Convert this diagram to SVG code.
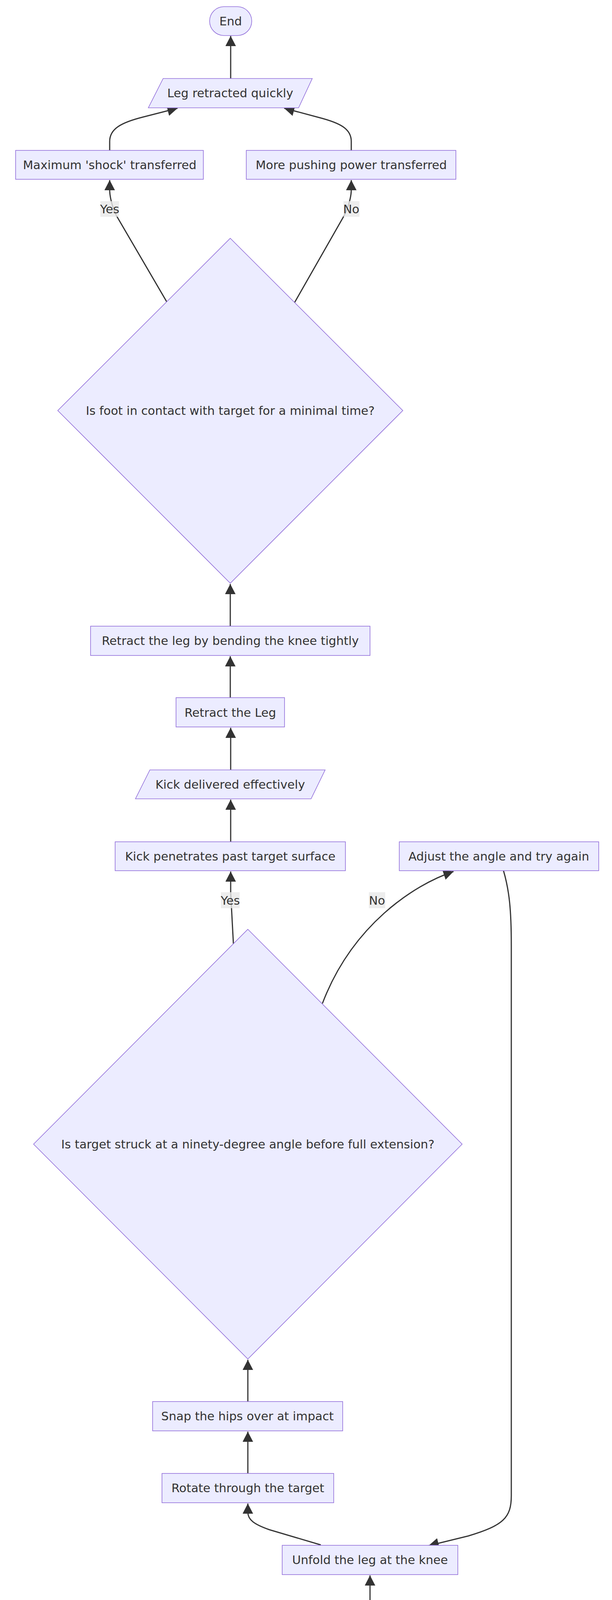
<svg xmlns="http://www.w3.org/2000/svg" width="1568" height="7764" viewBox="0 0 1568 7764">
<style>
.n{fill:#ECECFF;stroke:#9370DB;stroke-width:1.6}
.t{font-family:"DejaVu Sans",Verdana,sans-serif;font-size:30.5px;fill:#333;text-anchor:middle;dominant-baseline:central}
.e{fill:none;stroke:#333;stroke-width:3}
.lb{fill:#e8e8e8;fill-opacity:0.8}
</style>
<defs>
<marker id="ah" markerUnits="userSpaceOnUse" viewBox="0 0 10 10" preserveAspectRatio="none" markerWidth="26" markerHeight="27" refX="10" refY="5" orient="auto">
<path d="M0,0 L10,5 L0,10 z" fill="#333"/>
</marker>
</defs>
<rect width="1568" height="7764" fill="#fff"/>
<g id="edges">
<path class="e" marker-end="url(#ah)" d="M591,201 L591,92"/>
<path class="e" marker-end="url(#ah)" d="M281,385 L281,362 C281,330 310,314 365,300 L455,277"/>
<path class="e" marker-end="url(#ah)" d="M900,385 L900,362 C900,330 872,315 818,301 L728,277"/>
<path class="e" marker-end="url(#ah)" d="M428,774 L300,555 C292,541 281,510 281,485 L281,461"/>
<path class="e" marker-end="url(#ah)" d="M755,774 L880,555 C888,541 900,510 900,485 L900,461"/>
<path class="e" marker-end="url(#ah)" d="M590,1603 L590,1495"/>
<path class="e" marker-end="url(#ah)" d="M590,1786 L590,1680"/>
<path class="e" marker-end="url(#ah)" d="M591,1971 L591,1863"/>
<path class="e" marker-end="url(#ah)" d="M591,2155 L591,2047"/>
<path class="e" marker-end="url(#ah)" d="M598,2416 L591,2285 L591,2231"/>
<path class="e" marker-end="url(#ah)" d="M826,2569 C902,2369 1060,2265 1162,2231"/>
<path class="e" marker-end="url(#ah)" d="M1290,2229 C1305,2280 1310,2330 1310,2420 L1310,3829 C1310,3885 1290,3905 1200,3932 L1098,3957"/>
<path class="e" marker-end="url(#ah)" d="M635,3588 L635,3481"/>
<path class="e" marker-end="url(#ah)" d="M635,3772 L635,3665"/>
<path class="e" marker-end="url(#ah)" d="M822,3955 L690,3916 C650,3902 635,3890 635,3871 L635,3849"/>
<path class="e" marker-end="url(#ah)" d="M948,4140 L948,4033"/>
<path class="e" marker-end="url(#ah)" d="M948,4324 L948,4216"/>
<path class="e" marker-end="url(#ah)" d="M948,4508 L948,4400"/>
<path class="e" marker-end="url(#ah)" d="M948,4692 L948,4584"/>
<path class="e" marker-end="url(#ah)" d="M852,5196 L803,5060 C795,5035 792,5015 792,4990 L792,4860 C792,4815 820,4790 870,4768"/>
<path class="e" marker-end="url(#ah)" d="M1106,4876 L1106,4860 C1106,4820 1080,4795 1027,4768"/>
<path class="e" marker-end="url(#ah)" d="M1044,5196 L1094,5050 C1100,5030 1106,5010 1106,4990 L1106,4952"/>
<path class="e" marker-end="url(#ah)" d="M948,5937 L948,5830"/>
<path class="e" marker-end="url(#ah)" d="M948,6120 L948,6013"/>
<path class="e" marker-end="url(#ah)" d="M948,6304 L948,6197"/>
<path class="e" marker-end="url(#ah)" d="M948,6488 L948,6380"/>
<path class="e" marker-end="url(#ah)" d="M948,6672 L948,6565"/>
<path class="e" marker-end="url(#ah)" d="M948,6856 L948,6749"/>
<path class="e" marker-end="url(#ah)" d="M948,7040 L948,6933"/>
<path class="e" marker-end="url(#ah)" d="M948,7224 L948,7117"/>
<path class="e" marker-end="url(#ah)" d="M745,7408 L870,7372 C925,7355 948,7340 948,7322 L948,7301"/>
<path class="e" marker-end="url(#ah)" d="M465,7408 L340,7373 C285,7355 261,7340 261,7322 L261,7301"/>
<path class="e" marker-end="url(#ah)" d="M604,7592 L604,7484"/>
</g>
<g id="edge-labels">
<rect class="lb" x="257" y="515" width="48" height="40"/><text class="t" x="281" y="535">Yes</text>
<rect class="lb" x="880" y="515" width="41" height="40"/><text class="t" x="900" y="535">No</text>
<rect class="lb" x="566" y="2284" width="48" height="41"/><text class="t" x="590" y="2305">Yes</text>
<rect class="lb" x="945" y="2284" width="42" height="41"/><text class="t" x="966" y="2305">No</text>
<rect class="lb" x="770" y="4892" width="41" height="41"/><text class="t" x="790" y="4913">No</text>
<rect class="lb" x="1082" y="5006" width="49" height="40"/><text class="t" x="1106" y="5026">Yes</text>
</g>
<g id="End"><rect class="n" x="537" y="17" width="108" height="74" rx="37"/><text class="t" x="591" y="54">End</text></g>
<g id="LegRetracted"><polygon class="n" points="418,201 800,201 765,276 380,276"/><text class="t" x="590" y="238">Leg retracted quickly</text></g>
<g id="MaxShock"><rect class="n" x="40" y="385" width="481" height="74"/><text class="t" x="281" y="422">Maximum 'shock' transferred</text></g>
<g id="MorePush"><rect class="n" x="631" y="385" width="537" height="74"/><text class="t" x="900" y="422">More pushing power transferred</text></g>
<g id="FootContact"><polygon class="n" points="590,610 1032,1051 590,1493 148,1051"/><text class="t" x="590" y="1051">Is foot in contact with target for a minimal time?</text></g>
<g id="RetractBending"><rect class="n" x="232" y="1603" width="716" height="75"/><text class="t" x="590" y="1640">Retract the leg by bending the knee tightly</text></g>
<g id="RetractLeg"><rect class="n" x="451" y="1786" width="278" height="75"/><text class="t" x="590" y="1824">Retract the Leg</text></g>
<g id="KickDelivered"><polygon class="n" points="384,1971 833,1971 797,2045 347,2045"/><text class="t" x="590" y="2008">Kick delivered effectively</text></g>
<g id="KickPenetrates"><rect class="n" x="295" y="2155" width="590" height="74"/><text class="t" x="590" y="2192">Kick penetrates past target surface</text></g>
<g id="AdjustAngle"><rect class="n" x="1023" y="2155" width="511" height="74"/><text class="t" x="1278" y="2192">Adjust the angle and try again</text></g>
<g id="NinetyDegree"><polygon class="n" points="635,2379 1184,2929 635,3479 86,2929"/><text class="t" x="635" y="2929">Is target struck at a ninety-degree angle before full extension?</text></g>
<g id="SnapHips"><rect class="n" x="391" y="3588" width="487" height="75"/><text class="t" x="634" y="3625">Snap the hips over at impact</text></g>
<g id="Rotate"><rect class="n" x="415" y="3772" width="440" height="75"/><text class="t" x="635" y="3809">Rotate through the target</text></g>
<g id="Unfold"><rect class="n" x="723" y="3956" width="450" height="75"/><text class="t" x="948" y="3993">Unfold the leg at the knee</text></g>
<g id="Deliver"><rect class="n" x="807" y="4140" width="282" height="74"/><text class="t" x="948" y="4177">Deliver the Kick</text></g>
<g id="HipsTurned"><polygon class="n" points="650,4324 1284,4324 1247,4398 612,4398"/><text class="t" x="948" y="4361">Hips turned over, leg parallel to floor</text></g>
<g id="PointChambered"><rect class="n" x="600" y="4508" width="697" height="74"/><text class="t" x="948" y="4545">Point the chambered knee past the target</text></g>
<g id="ShinThigh"><rect class="n" x="658" y="4692" width="581" height="74"/><text class="t" x="948" y="4729">Shin and thigh parallel to the floor</text></g>
<g id="CorrectKnee"><rect class="n" x="888" y="4876" width="437" height="74"/><text class="t" x="1106" y="4913">Correct the knee position</text></g>
<g id="KneeDown"><polygon class="n" points="948,5100 1311,5464 948,5828 586,5464"/><text class="t" x="948" y="5464">Is the kicking knee pointing downward?</text></g>
<g id="TurnToes"><rect class="n" x="475" y="5937" width="947" height="74"/><text class="t" x="948" y="5974">Turn the toes of the supporting foot away from the target</text></g>
<g id="TurnHip"><rect class="n" x="792" y="6120" width="312" height="75"/><text class="t" x="948" y="6158">Turn the Hip Over</text></g>
<g id="FootCorrect"><polygon class="n" points="628,6304 1305,6304 1269,6378 591,6378"/><text class="t" x="948" y="6341">Kicking foot and toes in correct position</text></g>
<g id="PointFoot"><rect class="n" x="603" y="6488" width="690" height="75"/><text class="t" x="948" y="6525">Point the kicking foot and toes downward</text></g>
<g id="FoldKnee"><rect class="n" x="767" y="6672" width="363" height="75"/><text class="t" x="948" y="6709">Fold the knee tightly</text></g>
<g id="PositionFoot"><rect class="n" x="664" y="6856" width="569" height="74"/><text class="t" x="948" y="6893">Position the Kicking Foot and Toes</text></g>
<g id="KneeRaised"><polygon class="n" points="628,7040 1305,7040 1269,7115 592,7115"/><text class="t" x="948" y="7077">Kicking knee raised to appropriate level</text></g>
<g id="RaiseWaist"><rect class="n" x="613" y="7224" width="671" height="75"/><text class="t" x="948" y="7261">Raise the kicking knee above waist level</text></g>
<g id="IdentifyHeight"><polygon class="n" points="53,7224 503,7224 467,7299 17,7299"/><text class="t" x="260" y="7261">Identify the target height</text></g>
<g id="RaiseKnee"><rect class="n" x="410" y="7408" width="389" height="74"/><text class="t" x="604" y="7445">Raise the Kicking Knee</text></g>
<g id="Start"><rect class="n" x="539" y="7592" width="130" height="74" rx="37"/><text class="t" x="604" y="7629">Start</text></g>
</svg>
